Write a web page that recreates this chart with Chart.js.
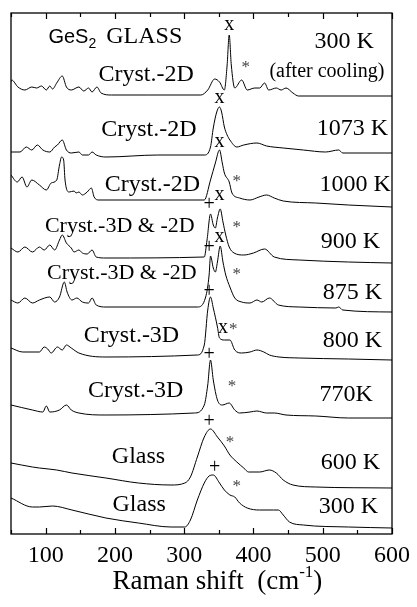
<!DOCTYPE html>
<html>
<head>
<meta charset="utf-8">
<script src="https://cdn.jsdelivr.net/npm/chart.js@4.4.0/dist/chart.umd.min.js"></script>
<style>
  html, body { margin: 0; padding: 0; background: #fff; }
  #wrap { position: relative; width: 417px; height: 607px; }
</style>
</head>
<body>
<div id="wrap"><canvas id="ramanChart" width="417" height="607"></canvas></div>
<script>
// Raman shift axis
const xMin = 50;
const xMax = 600;
const xTickValues = [100, 200, 300, 400, 500, 600];
const xMinorTicks = [50, 150, 250, 350, 450, 550];

// stacked spectra (offset already included)
const shift300after = [50,51,60,70,80,87,94,101,106,110,116,124,130,137,148,155,162,167,174,180,195,248,324,334,344,351,358,362,365,368,373,383,391,402,409,416,422,433,440,447,457,465,600];
const int300after = [452,454,447,444,447,446,448,444,448,445,451,458,447,444,447,443,446,442,447,441,439,439,439,444,455,452,444,469,499,469,446,454,444,446,446,451,444,446,444,446,441,438,438];

const shift1073 = [50,63,72,80,88,96,106,113,117,124,130,137,148,153,162,167,173,187,262,329,338,342,347,351,354,358,362,366,376,386,405,419,443,472,504,523,529,561,600];
const int1073 = [382,382,387,384,389,384,382,387,389,394,384,381,382,379,379,382,379,377,379,379,387,406,422,427,422,407,399,394,387,389,391,388,386,384,382,384,381,381,381];

const shift1000 = [50,59,66,73,80,91,101,108,116,120,123,126,128,134,141,144,148,153,160,166,170,177,329,338,345,351,355,358,365,369,380,395,408,419,430,443,490,537,600];
const int1000 = [359,352,357,347,354,349,344,351,354,369,377,374,354,342,343,341,342,339,342,346,337,334,334,354,371,384,371,361,352,341,336,334,337,339,336,333,331,329,327];

const shift900 = [50,60,70,81,91,98,106,113,120,124,130,137,141,148,153,160,167,173,187,329,333,338,342,345,348,352,356,360,365,372,386,400,416,430,466,537,600];
const int900 = [286,282,287,282,287,284,289,284,294,299,291,286,282,284,281,280,284,277,276,277,294,320,309,306,316,325,312,299,287,281,279,281,285,277,274,272,271];

const shift875 = [50,60,70,81,91,106,113,120,127,131,138,145,153,162,167,173,187,319,331,336,338,342,345,348,352,356,360,366,373,383,395,405,412,423,436,466,519,523,529,600];
const int875 = [234,231,236,231,234,237,232,237,252,242,234,236,232,231,236,229,227,227,237,259,278,266,262,272,288,272,259,247,236,232,231,234,232,236,229,227,226,227,224,222];

const shift800 = [50,67,91,98,103,108,117,124,130,137,148,187,319,329,334,338,342,348,351,358,366,373,383,395,405,415,423,437,466,537,600];
const int800 = [186,182,182,187,185,181,187,184,189,186,181,177,179,189,224,237,226,207,196,194,194,184,181,182,184,182,179,177,176,175,174];

const shift770 = [50,81,96,101,106,120,130,137,148,187,315,329,334,338,342,348,355,365,373,380,395,405,419,430,447,490,537,600];
const int770 = [129,124,122,128,122,124,129,124,121,119,121,129,149,174,154,134,129,131,124,121,122,123,121,121,119,118,116,116];

const shift600 = [50,81,91,116,138,187,234,281,301,309,319,329,338,348,358,366,376,386,393,409,423,433,443,457,490,600];
const int600 = [71,67,66,64,61,56,51,49,51,57,77,97,105,97,88,79,72,66,62,62,64,61,54,49,47,46];

const shift300 = [50,81,91,110,138,187,234,281,301,309,319,329,336,342,351,358,366,373,380,391,409,429,436,443,452,472,537,600];
const int300 = [36,27,27,28,24,16,11,7,7,14,34,51,58,59,51,44,39,37,31,26,24,24,24,19,12,9,7,6];

// text labels placed in data units
const labelTexts = ['300 K', '(after cooling)', 'Cryst.-2D', 'Cryst.-2D', '1073 K', 'Cryst.-2D', '1000 K',
    'Cryst.-3D & -2D', '900 K', 'Cryst.-3D & -2D', '875 K', 'Cryst.-3D', '800 K', 'Cryst.-3D', '770K',
    'Glass', '600 K', 'Glass', '300 K'];
const labelX = [531, 506, 245, 249, 543, 254, 547, 207, 540, 210, 543, 224, 543, 230, 534, 234, 540, 235, 537];
const labelY = [492, 462, 459, 404, 405, 349, 349, 308, 292, 261, 241, 198, 193, 143, 139, 77, 71, 29, 27];

// peak markers
const markTexts = ['x', '*', 'x', 'x', '*', '+', 'x', '*', '+', 'x', '*', '+', 'x', '*', '+', '*', '+', '*', '+', '*'];
const markX = [365, 389, 351, 351, 376, 336, 351, 376, 336, 351, 376, 336, 356, 371, 336, 369, 336, 366, 344, 376];
const markY = [509, 466, 436, 392, 352, 329, 339, 306, 286, 297, 259, 242, 206, 204, 179, 147, 112, 91, 66, 47];

const SERIF = '"Liberation Serif", "Times New Roman", Times, serif';
const SANS = '"Liberation Sans", Arial, Helvetica, sans-serif';

function toPoints(xs, ys) {
    return xs.map((x, i) => ({ x: x, y: ys[i] }));
}

const spectra = [
    [shift300after, int300after],
    [shift1073, int1073],
    [shift1000, int1000],
    [shift900, int900],
    [shift875, int875],
    [shift800, int800],
    [shift770, int770],
    [shift600, int600],
    [shift300, int300]
];

const datasets = spectra.map(s => ({
    data: toPoints(s[0], s[1]),
    borderColor: '#000',
    borderWidth: 1,
    pointRadius: 0,
    fill: false,
    cubicInterpolationMode: 'monotone'
}));

function labelFont(t) {
    if (t === '(after cooling)') return '20px ' + SERIF;
    if (t === 'Cryst.-3D & -2D') return '22px ' + SERIF;
    return '24px ' + SERIF;
}

// frame, inward ticks, annotations and axis title
const decorPlugin = {
    id: 'decor',
    afterDraw(chart) {
        const ctx = chart.ctx;
        const area = chart.chartArea;
        const xs = chart.scales.x;
        const ys = chart.scales.y;
        ctx.save();

        ctx.strokeStyle = '#000';
        ctx.lineWidth = 1.3;
        ctx.strokeRect(area.left, area.top, area.right - area.left, area.bottom - area.top);

        ctx.lineWidth = 1.2;
        const drawTick = (v, len) => {
            const px = Math.round(xs.getPixelForValue(v)) + 0.5;
            ctx.beginPath();
            ctx.moveTo(px, area.bottom);
            ctx.lineTo(px, area.bottom - len);
            ctx.moveTo(px, area.top);
            ctx.lineTo(px, area.top + len);
            ctx.stroke();
        };
        xTickValues.forEach(v => drawTick(v, 6));
        xMinorTicks.forEach(v => drawTick(v, 4));

        ctx.fillStyle = '#000';
        ctx.textBaseline = 'middle';
        ctx.textAlign = 'center';
        labelTexts.forEach((t, i) => {
            ctx.font = labelFont(t);
            ctx.fillText(t, xs.getPixelForValue(labelX[i]), ys.getPixelForValue(labelY[i]));
        });

        markTexts.forEach((t, i) => {
            ctx.font = (t === '*' ? '17px ' : '20px ') + SERIF;
            ctx.fillStyle = t === '*' ? '#444' : '#000';
            ctx.fillText(t, xs.getPixelForValue(markX[i]), ys.getPixelForValue(markY[i]));
        });

        // GeS2 GLASS heading
        ctx.fillStyle = '#000';
        ctx.textAlign = 'left';
        ctx.textBaseline = 'alphabetic';
        let hx = xs.getPixelForValue(104);
        const hy = ys.getPixelForValue(498) + 7;
        ctx.font = '20px ' + SANS;
        ctx.fillText('GeS', hx, hy);
        hx += ctx.measureText('GeS').width;
        ctx.font = '14px ' + SANS;
        ctx.fillText('2', hx, hy + 5);
        hx += ctx.measureText('2').width + 10;
        ctx.font = '24px ' + SERIF;
        ctx.fillText('GLASS', hx, hy);

        // axis title with superscript, centred near 350 cm-1
        const base = 589;
        const partA = 'Raman shift  (cm';
        const sup = '-1';
        const partB = ')';
        ctx.font = '27px ' + SERIF;
        const wA = ctx.measureText(partA).width;
        const wB = ctx.measureText(partB).width;
        ctx.font = '17px ' + SERIF;
        const wS = ctx.measureText(sup).width;
        let tx = xs.getPixelForValue(348) - (wA + wS + wB) / 2;
        ctx.font = '27px ' + SERIF;
        ctx.fillText(partA, tx, base);
        tx += wA;
        ctx.font = '17px ' + SERIF;
        ctx.fillText(sup, tx, base - 12);
        tx += wS;
        ctx.font = '27px ' + SERIF;
        ctx.fillText(partB, tx, base);

        ctx.restore();
    }
};

const ramanChart = new Chart(document.getElementById('ramanChart').getContext('2d'), {
    type: 'line',
    data: { datasets: datasets },
    options: {
        responsive: false,
        animation: false,
        devicePixelRatio: 1,
        layout: { padding: { left: 11, right: 19, top: 13, bottom: 0 } },
        plugins: {
            legend: { display: false },
            tooltip: { enabled: false }
        },
        scales: {
            x: {
                type: 'linear',
                min: xMin,
                max: xMax,
                grid: { display: false, drawTicks: false },
                border: { display: false },
                afterBuildTicks: axis => {
                    axis.ticks = xTickValues.map(v => ({ value: v }));
                },
                afterFit: axis => {
                    axis.height = 73;
                },
                ticks: {
                    autoSkip: false,
                    maxRotation: 0,
                    padding: 7,
                    color: '#000',
                    font: { family: SERIF, size: 24 },
                    callback: v => String(v)
                }
            },
            y: {
                type: 'linear',
                min: 0,
                max: 521,
                display: false
            }
        }
    },
    plugins: [decorPlugin]
});
</script>
</body>
</html>
